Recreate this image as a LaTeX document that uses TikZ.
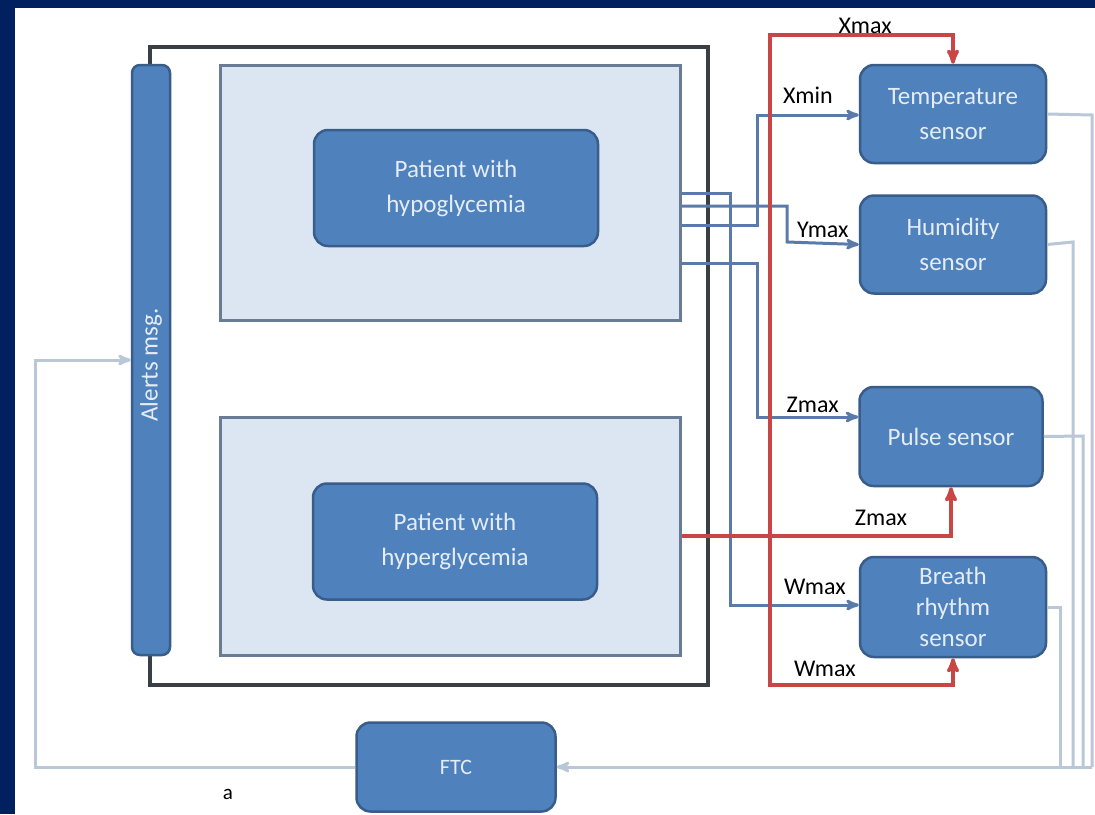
\documentclass[tikz,border=0pt]{standalone}
\usepackage{fontspec}
\setmainfont{Carlito}
\usetikzlibrary{arrows,positioning}
\definecolor{navy}{HTML}{002060}
\definecolor{blockfill}{HTML}{4F81BD}
\definecolor{blockline}{HTML}{385D8A}
\definecolor{blocktext}{HTML}{E4ECF6}
\definecolor{panelfill}{HTML}{DCE6F2}
\definecolor{panelline}{HTML}{687D94}
\definecolor{frameline}{HTML}{3A3F46}
\definecolor{feedline}{HTML}{5A7BAA}
\definecolor{limitline}{HTML}{C84646}
\definecolor{backline}{HTML}{B9C7D6}

\begin{document}
\begin{tikzpicture}[x=1pt,y=-1pt,>=stealth',line width=3pt,
  block/.style={rectangle,rounded corners=14pt,draw=blockline,fill=blockfill,
  line width=2.5pt,text=blocktext,align=center,inner sep=0pt,
  font=\fontsize{25}{35}\selectfont},
  sensor/.style={block,minimum width=186pt,minimum height=98pt},
  patient/.style={block,minimum width=284pt,minimum height=116pt},
  panel/.style={draw=panelline,fill=panelfill,line width=3pt},
  feed/.style={draw=feedline,->},
  limit/.style={draw=limitline,line width=3.5pt},
  back/.style={draw=backline},
  lbl/.style={font=\fontsize{24}{28}\selectfont,inner sep=1pt}]

  % background and page
  \useasboundingbox (0,0) rectangle (1095,814);
  \fill[navy] (0,0) rectangle (1095,814);
  \fill[white] (15,8) rectangle (1095,814);

  % outer frame and the two patient panels
  \draw[frameline,line width=3.5pt] (150,47) rectangle (708,685);
  \node[panel,minimum width=460pt,minimum height=255pt] (P1) at (450,192.5) {};
  \node[panel,minimum width=460pt,minimum height=238pt] (P2) at (450,536) {};
  \node[patient] (hypo) at ([xshift=6pt,yshift=4.5pt]P1) {Patient with\\hypoglycemia};
  \node[patient] (hyper) at ([xshift=5pt,yshift=-5.5pt]P2) {Patient with\\hyperglycemia};

  \node[block,rounded corners=8pt,rotate=90,minimum width=590pt,minimum height=38pt,
    font=\fontsize{25}{28}\selectfont] (alerts) at (151,360) {Alerts msg.\hspace*{10pt}};

  % sensors
  \node[sensor] (temp) at (953,114) {Temperature\\sensor};
  \node[sensor] (hum) [below=30pt of temp] {Humidity\\sensor};
  \node[sensor,minimum width=183pt,minimum height=99pt] (pulse) at (951,436.5) {Pulse sensor};
  \node[sensor,minimum height=100pt,font=\fontsize{25}{31}\selectfont] (breath) at (953,607) {Breath\\rhythm\\sensor};

  \node[block,minimum width=199pt,minimum height=89pt,font=\fontsize{22}{26}\selectfont] (ftc) at (456,767) {FTC};
  \node[lbl,font=\fontsize{21}{24}\selectfont] (a) at (228,794) {a};

  % thresholds from the patient panels
  \coordinate (o1) at (P1.east |- 0,193);
  \coordinate (o2) at (P1.east |- 0,206);
  \coordinate (o3) at (P1.east |- 0,225);
  \coordinate (o4) at (P1.east |- 0,263);
  \draw[feed] (o3) -- (757,225) -- (757,115) -- (temp.west |- 0,115)
    node[lbl,pos=0.5,above=9pt] {Xmin};
  \draw[feed] (o2) -- (787,206) -- (787,242) -- (hum.west)
    node[lbl,pos=0.5,above=3pt] {Ymax};
  \draw[feed] (o4) -- (757,263) -- (757,417) -- (pulse.west |- 0,417)
    node[lbl,pos=0.55,above=2pt] {Zmax};
  \draw[feed] (o1) -- (730,193) -- (730,605) -- (breath.west |- 0,605)
    node[lbl,pos=0.66,above=8pt] {Wmax};

  \draw[limit,<->] (temp.north) -- (temp.north |- 0,35) -- (770,35)
    node[lbl,pos=0.48,above=-1pt] {Xmax}
    -- (770,685) -- (breath.south |- 0,685)
    node[lbl,pos=0.3,above=6pt] {Wmax}
    -- (breath.south);
  \draw[limit,->] (P2.east) -- (pulse.south |- P2.east)
    node[lbl,pos=0.74,above=8pt] {Zmax}
    -- (pulse.south);

  % back to FTC and the alerts bar
  \draw[back] (temp.east) -- (1092,115) -- (1092,767);
  \draw[back] (hum.east) -- (1073,242) -- (1073,767);
  \draw[back] (pulse.east) -- (1083,436) -- (1083,767);
  \draw[back] (breath.east) -- (1060,607) -- (1060,767);
  \draw[back,->] (1092,767) -- (ftc.east);
  \draw[back,->] (ftc.west) -- (35,767) -- (35,360) -- (alerts.north);
\end{tikzpicture}
\end{document}
